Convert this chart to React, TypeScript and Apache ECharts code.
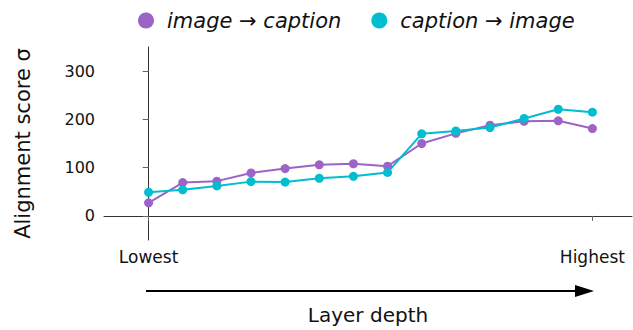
import React, { useEffect, useRef } from "react";
import * as echarts from "echarts";

const layers = [0, 1, 2, 3, 4, 5, 6, 7, 8, 9, 10, 11, 12, 13];
const imageToCaption = [27, 69, 72, 89, 98, 106, 108, 103, 150, 171, 188, 196, 197, 181];
const captionToImage = [49, 54, 62, 71, 70, 78, 82, 90, 170, 176, 183, 202, 221, 215];
const xTickPositions = [0, 13];
const xTickLabels = ["Lowest", "Highest"];
const yTicks = [0, 100, 200, 300];
const seriesNames = ["image → caption", "caption → image"];

const FONT = "DejaVu Sans";
const PURPLE = "#9d63c6";
const CYAN = "#00bdd0";

export default function App() {
  const ref = useRef<HTMLDivElement>(null);
  useEffect(() => {
    document.body.style.margin = "0";
    if (!ref.current) return;
    const chart = echarts.init(ref.current, null, { renderer: "svg" });
    const mk = (vals: number[]) => layers.map((l, i) => [l, vals[i]]);
    chart.setOption({
      animation: false,
      textStyle: { fontFamily: FONT },
      legend: {
        left: 133,
        top: 5,
        icon: "circle",
        itemWidth: 16,
        itemHeight: 16,
        itemGap: 30,
        textStyle: {
          fontFamily: FONT,
          fontStyle: "italic",
          fontSize: 21,
          color: "#111",
          padding: [0, 0, 0, 8],
        },
        data: seriesNames,
      },
      grid: { left: 104, right: 1, top: 47, bottom: 87, containLabel: false },
      xAxis: {
        type: "value",
        min: -1.306,
        max: 14.16,
        name: "Layer depth",
        nameLocation: "middle",
        nameGap: 65,
        nameTextStyle: { fontFamily: FONT, fontSize: 20, color: "#111" },
        splitLine: { show: false },
        axisLine: { show: true, lineStyle: { color: "#333", width: 1 } },
        axisTick: {
          show: true,
          length: 5,
          customValues: xTickPositions,
          lineStyle: { color: "#666" },
        },
        axisLabel: {
          customValues: xTickPositions,
          formatter: (v: number) => xTickLabels[xTickPositions.indexOf(Math.round(v))] ?? "",
          fontFamily: FONT,
          fontSize: 17,
          color: "#111",
          margin: 8,
        },
      },
      yAxis: {
        type: "value",
        min: -50,
        max: 350,
        name: "Alignment score σ",
        nameLocation: "middle",
        nameGap: 71,
        nameTextStyle: { fontFamily: FONT, fontSize: 21, color: "#111" },
        splitLine: { show: false },
        axisLine: { show: true, lineStyle: { color: "#333", width: 1 } },
        axisTick: {
          show: true,
          length: 6,
          customValues: yTicks,
          lineStyle: { color: "#666" },
        },
        axisLabel: {
          customValues: yTicks,
          fontFamily: FONT,
          fontSize: 16,
          color: "#111",
          margin: 9,
        },
      },
      series: [
        {
          name: seriesNames[0],
          type: "line",
          data: mk(imageToCaption),
          symbol: "circle",
          symbolSize: 9,
          color: PURPLE,
          lineStyle: { width: 2, color: PURPLE },
          itemStyle: { color: PURPLE },
        },
        {
          name: seriesNames[1],
          type: "line",
          data: mk(captionToImage),
          symbol: "circle",
          symbolSize: 9,
          color: CYAN,
          lineStyle: { width: 2, color: CYAN },
          itemStyle: { color: CYAN },
        },
      ],
      graphic: [
        {
          type: "line",
          shape: { x1: 146, y1: 291, x2: 577, y2: 291 },
          style: { stroke: "#000", lineWidth: 2 },
        },
        {
          type: "polygon",
          shape: { points: [[575, 285], [594, 291], [575, 297]] },
          style: { fill: "#000" },
        },
      ],
    });
    return () => chart.dispose();
  }, []);
  return <div ref={ref} style={{ width: 633, height: 330 }} />;
}
